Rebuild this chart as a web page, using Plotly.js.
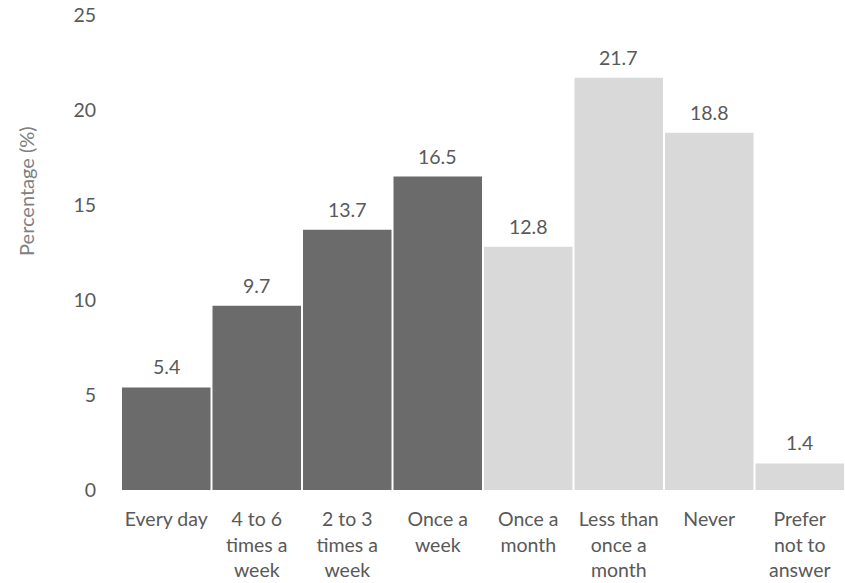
<!DOCTYPE html>
<html>
<head>
<meta charset="utf-8">
<script src="https://cdn.plot.ly/plotly-3.0.1.min.js"></script>
<style>html,body{margin:0;padding:0;background:#fff;overflow:hidden}</style>
</head>
<body>
<div id="chart" style="width:845px;height:583px"></div>
<script>
const categories = ["Every day","4 to 6<br>times a<br>week","2 to 3<br>times a<br>week","Once a<br>week","Once a<br>month","Less than<br>once a<br>month","Never","Prefer<br>not to<br>answer"];
const values = [5.4, 9.7, 13.7, 16.5, 12.8, 21.7, 18.8, 1.4];
const barColors = ["#6b6b6b","#6b6b6b","#6b6b6b","#6b6b6b","#d9d9d9","#d9d9d9","#d9d9d9","#d9d9d9"];
const yTicks = [0, 5, 10, 15, 20, 25];

const font = "Lato, Open Sans, sans-serif";
const txtColor = "#595959";

const trace = {
  type: "bar",
  x: categories,
  y: values,
  marker: {color: barColors, line: {width: 0}},
  hoverinfo: "none"
};

const annotations = values.map((v, i) => ({
  x: categories[i], y: v, xref: "x", yref: "y",
  text: v.toFixed(1), showarrow: false,
  yanchor: "bottom", yshift: 7,
  font: {family: font, size: 19.5, color: txtColor}
}));
annotations.push({
  xref: "paper", yref: "paper", x: -0.131, y: 0.63,
  xanchor: "center", yanchor: "middle",
  text: "Percentage (%)", textangle: -90, showarrow: false,
  font: {family: font, size: 20, color: "#808080"}
});

const layout = {
  width: 845, height: 583,
  margin: {l: 121, r: 0, t: 15, b: 93},
  paper_bgcolor: "#fff", plot_bgcolor: "#fff",
  bargap: 0.022,
  showlegend: false,
  xaxis: {
    showgrid: false, zeroline: false, showline: false,
    ticks: "outside", ticklen: 12, tickcolor: "rgba(0,0,0,0)",
    tickfont: {family: font, size: 19.5, color: txtColor}
  },
  yaxis: {
    range: [0, 25], tickvals: yTicks,
    showgrid: false, zeroline: false, showline: false,
    ticks: "outside", ticklen: 20, tickcolor: "rgba(0,0,0,0)",
    tickfont: {family: font, size: 19.5, color: txtColor}
  },
  annotations: annotations
};

Plotly.newPlot("chart", [trace], layout, {displayModeBar: false, staticPlot: true});
</script>
</body>
</html>
